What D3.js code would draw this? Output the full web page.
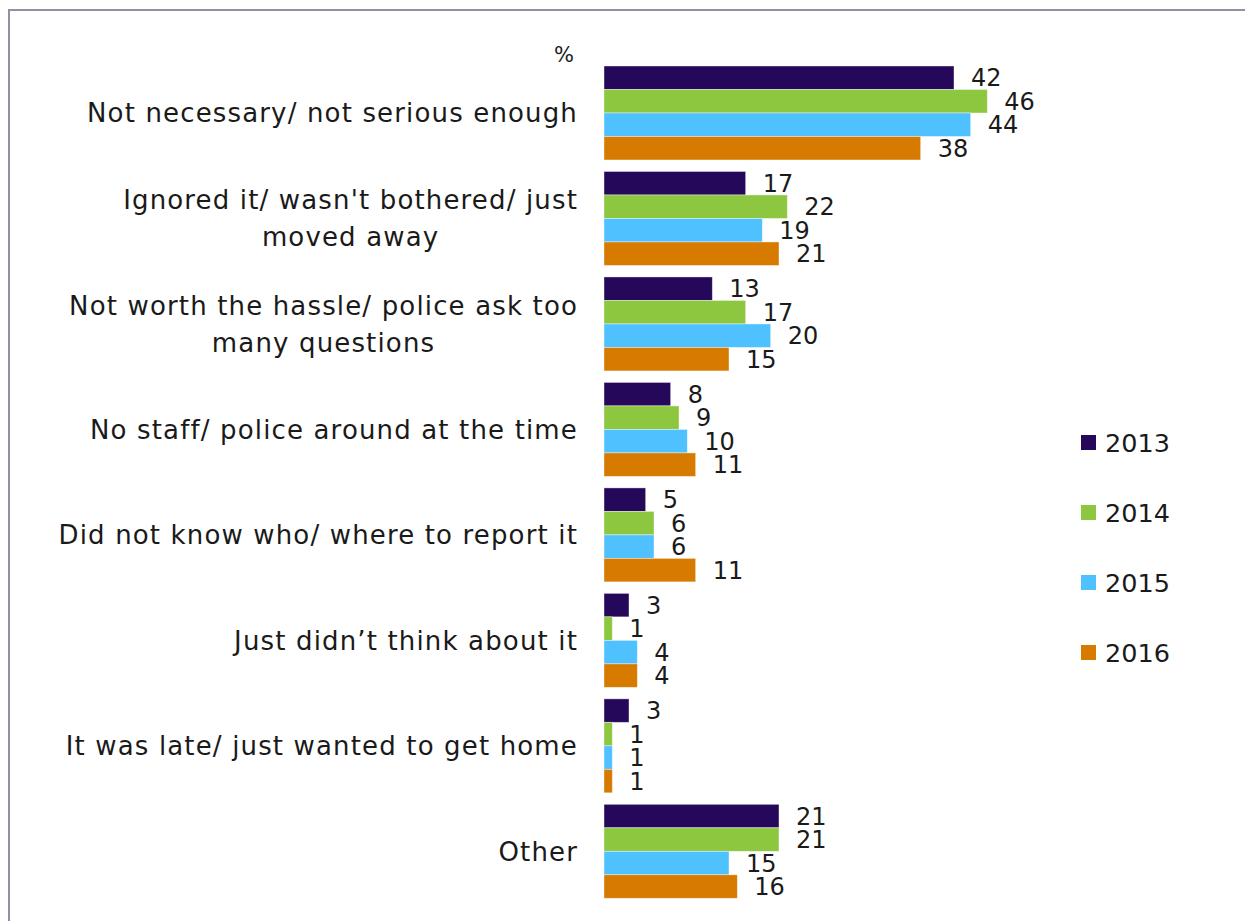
<!DOCTYPE html>
<html>
<head>
<meta charset="utf-8">
<script src="https://cdn.jsdelivr.net/npm/d3@7"></script>
<style>
  body { margin: 0; background: #fff; }
  svg text { font-family: "DejaVu Sans", sans-serif; fill: #1a1a1a; }
</style>
</head>
<body>
<svg id="chart" width="1245" height="921"></svg>
<script>
// chart data
let categories = [
    ["Not necessary/ not serious enough"],
    ["Ignored it/ wasn't bothered/ just", "moved away"],
    ["Not worth the hassle/ police ask too", "many questions"],
    ["No staff/ police around at the time"],
    ["Did not know who/ where to report it"],
    ["Just didn\u2019t think about it"],
    ["It was late/ just wanted to get home"],
    ["Other"]
]
let years = ["2013", "2014", "2015", "2016"]
let colors = ["#26085a", "#8dc63f", "#50c1ff", "#d67a00"]
let v2013 = [42, 17, 13, 8, 5, 3, 3, 21]
let v2014 = [46, 22, 17, 9, 6, 1, 1, 21]
let v2015 = [44, 19, 20, 10, 6, 4, 1, 15]
let v2016 = [38, 21, 15, 11, 11, 4, 1, 16]

let series = [v2013, v2014, v2015, v2016]
let catKeys = categories.map((d, i) => i)

let svg = d3.select("#chart")

// frame
svg.append("path")
    .attr("d", "M9,921 V10 H1245")
    .attr("fill", "none")
    .attr("stroke", "#9090a2")
    .attr("stroke-width", 2)

let xScale = d3.scaleLinear()
    .domain([0, 42])
    .range([604, 954])

let yScale = d3.scaleBand()
    .domain(catKeys)
    .range([66, 898.3])
    .paddingInner(0.109)
    .paddingOuter(0)

let ySub = d3.scaleBand()
    .domain(years)
    .range([0, yScale.bandwidth()])

let color = d3.scaleOrdinal().domain(years).range(colors)

let rows = []
catKeys.forEach(i => {
    years.forEach((y, j) => {
        rows.push({cat: i, year: y, value: series[j][i]})
    })
})

let groups = svg.append("g")

groups.selectAll("rect")
    .data(rows)
    .enter()
    .append("rect")
        .attr("x", xScale(0))
        .attr("y", d => yScale(d.cat) + ySub(d.year))
        .attr("width", d => xScale(d.value) - xScale(0))
        .attr("height", ySub.bandwidth())
        .attr("fill", d => color(d.year))
        .attr("stroke", "#ffffff")
        .attr("stroke-opacity", 0.5)
        .attr("stroke-width", 0.8)

groups.selectAll("text")
    .data(rows)
    .enter()
    .append("text")
        .attr("x", d => xScale(d.value) + 17)
        .attr("y", d => yScale(d.cat) + ySub(d.year) + ySub.bandwidth() / 2)
        .attr("dy", "0.36em")
        .style("font-size", "24px")
        .text(d => d.value)

// category labels - block is right aligned, lines centred inside it
let labelRight = 578
let lineGap = 37

let labels = svg.append("g")
catKeys.forEach(i => {
    let lines = categories[i]
    let cy = yScale(i) + yScale.bandwidth() / 2
    let first = labels.append("text")
        .attr("x", labelRight)
        .attr("text-anchor", "end")
        .attr("y", cy - (lines.length - 1) / 2 * lineGap)
        .attr("dy", "0.36em")
        .style("font-size", "26px")
        .style("letter-spacing", "1.15px")
        .text(lines[0])
    let mid = labelRight - first.node().getComputedTextLength() / 2
    lines.slice(1).forEach((t, k) => {
        labels.append("text")
            .attr("x", mid)
            .attr("text-anchor", "middle")
            .attr("y", cy + (k + 1 - (lines.length - 1) / 2) * lineGap)
            .attr("dy", "0.36em")
            .style("font-size", "26px")
            .style("letter-spacing", "1.15px")
            .text(t)
    })
})

svg.append("text")
    .attr("x", 574)
    .attr("y", 62)
    .attr("text-anchor", "end")
    .style("font-size", "21px")
    .text("%")

// legend
let legend = svg.append("g")
    .selectAll("g")
    .data(years)
    .enter()
    .append("g")
        .attr("transform", (d, i) => `translate(1081, ${443 + i * 70})`)

legend.append("rect")
    .attr("x", 0)
    .attr("y", -8)
    .attr("width", 15)
    .attr("height", 15)
    .attr("fill", d => color(d))

legend.append("text")
    .attr("x", 24)
    .attr("y", 0)
    .attr("dy", "0.36em")
    .style("font-size", "25.5px")
    .text(d => d)
</script>
</body>
</html>
